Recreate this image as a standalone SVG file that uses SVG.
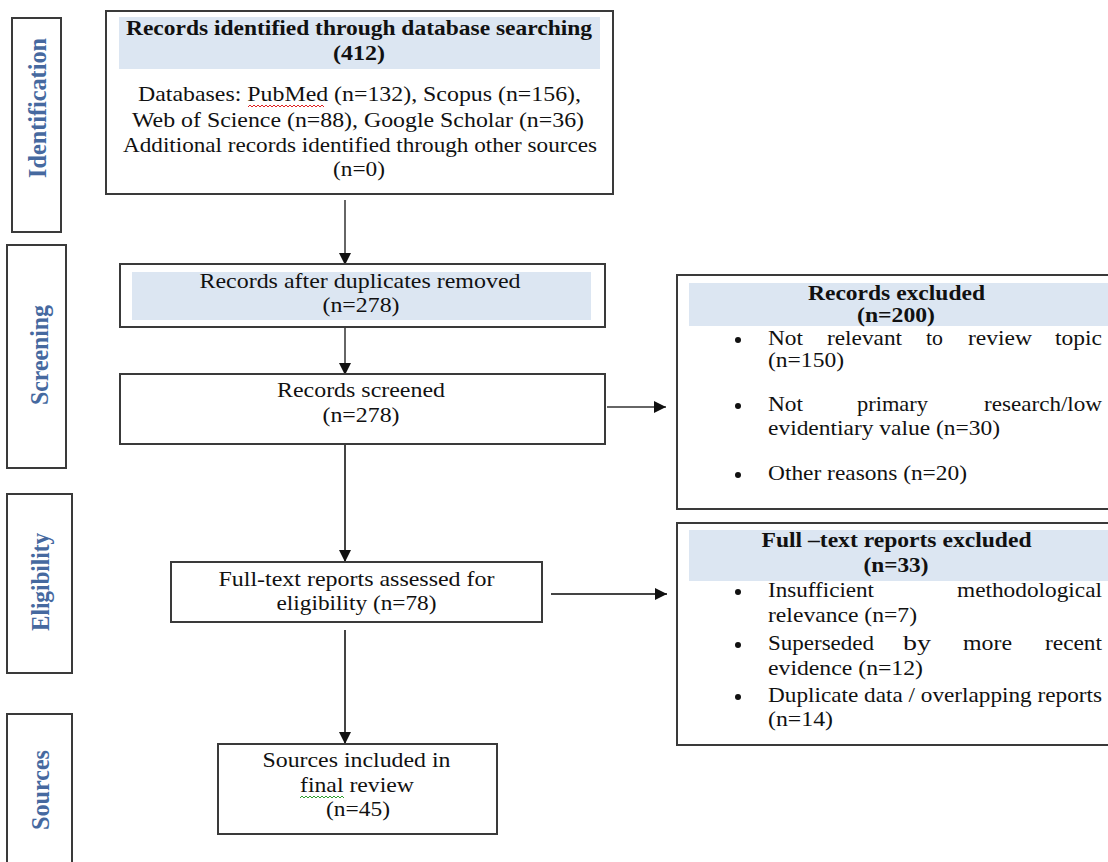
<svg xmlns="http://www.w3.org/2000/svg" width="1108" height="862" viewBox="0 0 1108 862">
  <style>
    .box { fill: #ffffff; stroke: #3a3a3a; stroke-width: 2; }
    .hdr { fill: #dce6f2; stroke: none; }
    .t { font-family: "Liberation Serif", "Times New Roman", serif; font-size: 21px; fill: #111; }
    .b { font-weight: bold; }
    .c { text-anchor: middle; }
    .side { font-family: "Liberation Serif", "Times New Roman", serif; font-size: 26px; font-weight: bold; fill: #46699f; text-anchor: middle; }
    .wire { stroke: #444; stroke-width: 2; fill: none; }
    .wire.soft { stroke: #666; }
    .dot { fill: #111; }
    .spell-red { stroke: #e02020; stroke-width: 1; fill: none; }
    .spell-green { stroke: #2e9e2e; stroke-width: 1; fill: none; }
  </style>
  <defs>
    <marker id="arrow" markerUnits="userSpaceOnUse" markerWidth="12" markerHeight="12" refX="12" refY="6" orient="auto">
      <path d="M0,0 L12,6 L0,12 z" fill="#111"/>
    </marker>
  </defs>

  <rect width="1108" height="862" fill="#ffffff"/>

  <!-- Phase labels down the left side -->
  <g id="phase-identification">
    <rect class="box" x="12" y="18" width="49" height="214"/>
    <text class="side" transform="translate(46,108) rotate(-90)" textLength="140" lengthAdjust="spacingAndGlyphs">Identification</text>
  </g>
  <g id="phase-screening">
    <rect class="box" x="7" y="245" width="59" height="223"/>
    <text class="side" transform="translate(48,355) rotate(-90)" textLength="100" lengthAdjust="spacingAndGlyphs">Screening</text>
  </g>
  <g id="phase-eligibility">
    <rect class="box" x="7" y="494" width="65" height="179"/>
    <text class="side" transform="translate(49,582) rotate(-90)" textLength="98" lengthAdjust="spacingAndGlyphs">Eligibility</text>
  </g>
  <g id="phase-sources">
    <rect class="box" x="7" y="714" width="65" height="170"/>
    <text class="side" transform="translate(49,790) rotate(-90)" textLength="80" lengthAdjust="spacingAndGlyphs">Sources</text>
  </g>

  <!-- Connectors -->
  <g id="connectors">
    <line class="wire soft" x1="345" y1="200" x2="345" y2="265" marker-end="url(#arrow)"/>
    <line class="wire soft" x1="345" y1="327" x2="345" y2="375" marker-end="url(#arrow)"/>
    <line class="wire soft" x1="607" y1="407" x2="666" y2="407" marker-end="url(#arrow)"/>
    <line class="wire" x1="345" y1="444" x2="345" y2="562" marker-end="url(#arrow)"/>
    <line class="wire" x1="551" y1="594" x2="667" y2="594" marker-end="url(#arrow)"/>
    <line class="wire" x1="345" y1="630" x2="345" y2="744" marker-end="url(#arrow)"/>
  </g>

  <!-- Records identified -->
  <g id="node-identified">
    <rect class="box" x="106" y="11" width="507" height="183"/>
    <rect class="hdr" x="119" y="17" width="481" height="52"/>
    <text class="t b c" x="359" y="35" textLength="466" lengthAdjust="spacingAndGlyphs">Records identified through database searching</text>
    <text class="t b c" x="359" y="60" textLength="52" lengthAdjust="spacingAndGlyphs">(412)</text>
    <text class="t c" x="359.5" y="101" textLength="443" lengthAdjust="spacingAndGlyphs">Databases: PubMed (n=132), Scopus (n=156),</text>
    <text class="t c" x="358" y="127" textLength="452" lengthAdjust="spacingAndGlyphs">Web of Science (n=88), Google Scholar (n=36)</text>
    <text class="t c" x="360" y="152" textLength="474" lengthAdjust="spacingAndGlyphs">Additional records identified through other sources</text>
    <text class="t c" x="359" y="176" textLength="52" lengthAdjust="spacingAndGlyphs">(n=0)</text>
    <path class="spell-red" d="M248,107 l2,-2 l2,2 l2,-2 l2,2 l2,-2 l2,2 l2,-2 l2,2 l2,-2 l2,2 l2,-2 l2,2 l2,-2 l2,2 l2,-2 l2,2 l2,-2 l2,2 l2,-2 l2,2 l2,-2 l2,2 l2,-2 l2,2 l2,-2 l2,2 l2,-2 l2,2 l2,-2 l2,2 l2,-2 l2,2 l2,-2 l2,2 l2,-2 l2,2 l2,-2 l2,2"/>
  </g>

  <!-- Records after duplicates removed -->
  <g id="node-deduplicated">
    <rect class="box" x="120" y="264" width="485" height="63"/>
    <rect class="hdr" x="132" y="272" width="459" height="48"/>
    <text class="t c" x="360" y="288" textLength="321" lengthAdjust="spacingAndGlyphs">Records after duplicates removed</text>
    <text class="t c" x="361" y="312" textLength="77" lengthAdjust="spacingAndGlyphs">(n=278)</text>
  </g>

  <!-- Records screened -->
  <g id="node-screened">
    <rect class="box" x="120" y="374" width="485" height="70"/>
    <text class="t c" x="361" y="397" textLength="168" lengthAdjust="spacingAndGlyphs">Records screened</text>
    <text class="t c" x="361" y="422" textLength="77" lengthAdjust="spacingAndGlyphs">(n=278)</text>
  </g>

  <!-- Records excluded -->
  <g id="node-records-excluded">
    <rect class="box" x="677" y="275" width="460" height="234"/>
    <rect class="hdr" x="689" y="283" width="440" height="43"/>
    <text class="t b c" x="896.5" y="300" textLength="177" lengthAdjust="spacingAndGlyphs">Records excluded</text>
    <text class="t b c" x="896" y="322" textLength="78" lengthAdjust="spacingAndGlyphs">(n=200)</text>
    <circle class="dot" cx="738" cy="340" r="3"/>
    <text class="t" x="768" y="345" textLength="35" lengthAdjust="spacingAndGlyphs">Not</text>
    <text class="t" x="827" y="345" textLength="75" lengthAdjust="spacingAndGlyphs">relevant</text>
    <text class="t" x="926" y="345" textLength="17" lengthAdjust="spacingAndGlyphs">to</text>
    <text class="t" x="968" y="345" textLength="64" lengthAdjust="spacingAndGlyphs">review</text>
    <text class="t" x="1055" y="345" textLength="47" lengthAdjust="spacingAndGlyphs">topic</text>
    <text class="t" x="768" y="367" textLength="76" lengthAdjust="spacingAndGlyphs">(n=150)</text>
    <circle class="dot" cx="738" cy="406" r="3"/>
    <text class="t" x="768" y="411" textLength="35" lengthAdjust="spacingAndGlyphs">Not</text>
    <text class="t" x="857" y="411" textLength="71" lengthAdjust="spacingAndGlyphs">primary</text>
    <text class="t" x="984" y="411" textLength="118" lengthAdjust="spacingAndGlyphs">research/low</text>
    <text class="t" x="768" y="435" textLength="232" lengthAdjust="spacingAndGlyphs">evidentiary value (n=30)</text>
    <circle class="dot" cx="738" cy="475" r="3"/>
    <text class="t" x="768" y="480" textLength="199" lengthAdjust="spacingAndGlyphs">Other reasons (n=20)</text>
  </g>

  <!-- Full-text reports assessed -->
  <g id="node-assessed">
    <rect class="box" x="171" y="562" width="371" height="60"/>
    <text class="t c" x="356.5" y="586" textLength="276" lengthAdjust="spacingAndGlyphs">Full-text reports assessed for</text>
    <text class="t c" x="356.5" y="610" textLength="160" lengthAdjust="spacingAndGlyphs">eligibility (n=78)</text>
  </g>

  <!-- Full-text reports excluded -->
  <g id="node-fulltext-excluded">
    <rect class="box" x="677" y="523" width="460" height="222"/>
    <rect class="hdr" x="689" y="530" width="440" height="51"/>
    <text class="t b c" x="896.5" y="547" textLength="270" lengthAdjust="spacingAndGlyphs">Full –text reports excluded</text>
    <text class="t b c" x="896" y="572" textLength="65" lengthAdjust="spacingAndGlyphs">(n=33)</text>
    <circle class="dot" cx="738" cy="592" r="3"/>
    <text class="t" x="768" y="597" textLength="106" lengthAdjust="spacingAndGlyphs">Insufficient</text>
    <text class="t" x="957" y="597" textLength="145" lengthAdjust="spacingAndGlyphs">methodological</text>
    <text class="t" x="768" y="622" textLength="149" lengthAdjust="spacingAndGlyphs">relevance (n=7)</text>
    <circle class="dot" cx="738" cy="645" r="3"/>
    <text class="t" x="768" y="650" textLength="106" lengthAdjust="spacingAndGlyphs">Superseded</text>
    <text class="t" x="903" y="650" textLength="28" lengthAdjust="spacingAndGlyphs">by</text>
    <text class="t" x="963" y="650" textLength="49" lengthAdjust="spacingAndGlyphs">more</text>
    <text class="t" x="1045" y="650" textLength="57" lengthAdjust="spacingAndGlyphs">recent</text>
    <text class="t" x="768" y="675" textLength="155" lengthAdjust="spacingAndGlyphs">evidence (n=12)</text>
    <circle class="dot" cx="738" cy="697" r="3"/>
    <text class="t" x="768" y="702" textLength="334" lengthAdjust="spacingAndGlyphs">Duplicate data / overlapping reports</text>
    <text class="t" x="768" y="726" textLength="65" lengthAdjust="spacingAndGlyphs">(n=14)</text>
  </g>

  <!-- Sources included -->
  <g id="node-included">
    <rect class="box" x="218" y="744" width="279" height="90"/>
    <text class="t c" x="356.5" y="767" textLength="188" lengthAdjust="spacingAndGlyphs">Sources included in</text>
    <text class="t c" x="357" y="792" textLength="114" lengthAdjust="spacingAndGlyphs">final review</text>
    <text class="t c" x="358" y="816" textLength="64" lengthAdjust="spacingAndGlyphs">(n=45)</text>
    <path class="spell-green" d="M300,798 l2,-2 l2,2 l2,-2 l2,2 l2,-2 l2,2 l2,-2 l2,2 l2,-2 l2,2 l2,-2 l2,2 l2,-2 l2,2 l2,-2 l2,2 l2,-2 l2,2 l2,-2 l2,2 l2,-2 l2,2"/>
  </g>
</svg>
